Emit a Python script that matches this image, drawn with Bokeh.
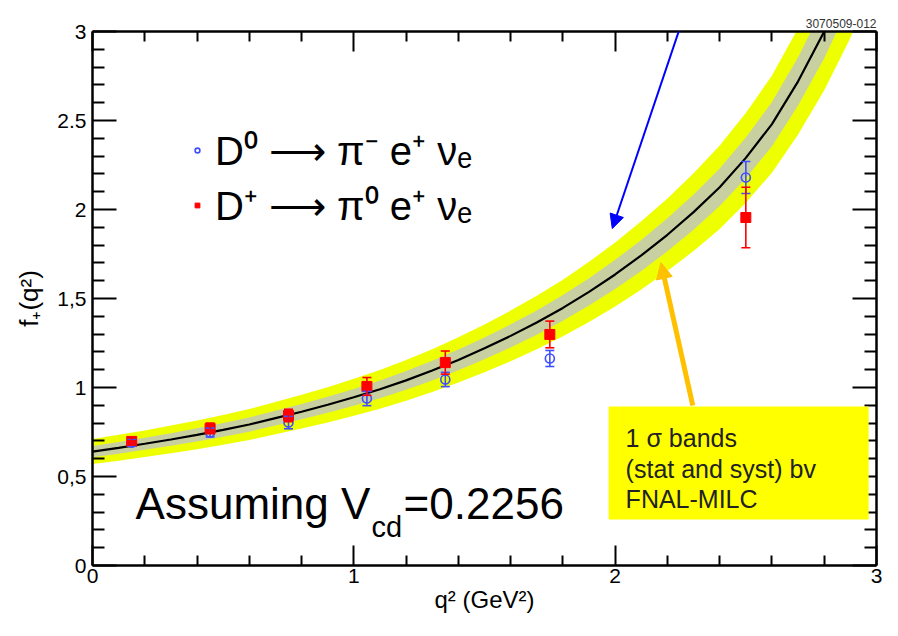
from bokeh.plotting import figure
from bokeh.models import (ColumnDataSource, Whisker, TeeHead, Arrow, NormalHead, Label,
                          BoxAnnotation, LinearAxis, FixedTicker, Range1d, Legend, LegendItem,
                          CustomLabelingPolicy)
from bokeh.embed import file_html
from bokeh.resources import INLINE

# ---------------- data ----------------
q2_points = [0.15, 0.45, 0.75, 1.05, 1.35, 1.75, 2.50]
f_d0 = [0.69, 0.747, 0.803, 0.938, 1.045, 1.163, 2.18]          # D0 -> pi- e+ nu (blue)
err_d0 = [0.02, 0.025, 0.035, 0.04, 0.04, 0.045, 0.09]
f_dp = [0.697, 0.770, 0.843, 1.006, 1.140, 1.298, 1.955]        # D+ -> pi0 e+ nu (red)
err_dp = [0.02, 0.03, 0.035, 0.05, 0.065, 0.075, 0.17]

q2_fit = [0.0, 0.1, 0.2, 0.3, 0.4, 0.5, 0.6, 0.7, 0.8, 0.9, 1.0, 1.1, 1.2, 1.3, 1.4, 1.5,
          1.6, 1.7, 1.8, 1.9, 2.0, 2.1, 2.2, 2.3, 2.4, 2.5, 2.6, 2.7, 2.8, 2.9, 3.0]
f_fit = [0.640, 0.661, 0.684, 0.708, 0.734, 0.762, 0.792, 0.828, 0.864, 0.903, 0.945,
         0.990, 1.040, 1.095, 1.155, 1.220, 1.290, 1.365, 1.447, 1.537, 1.635, 1.742,
         1.858, 1.985, 2.125, 2.290, 2.480, 2.720, 3.000, 3.330, 3.720]
yellow_hw = [0.070, 0.073, 0.075, 0.078, 0.081, 0.084, 0.087, 0.091, 0.095, 0.099, 0.104,
             0.109, 0.114, 0.120, 0.127, 0.134, 0.142, 0.150, 0.159, 0.169, 0.180, 0.192,
             0.204, 0.218, 0.234, 0.252, 0.273, 0.299, 0.330, 0.366, 0.409]
gray_hw = [0.032, 0.033, 0.034, 0.035, 0.037, 0.038, 0.040, 0.041, 0.043, 0.045, 0.047,
           0.050, 0.052, 0.055, 0.058, 0.061, 0.065, 0.068, 0.072, 0.077, 0.082, 0.087,
           0.093, 0.099, 0.106, 0.115, 0.124, 0.136, 0.150, 0.167, 0.186]

x_major = [0, 1, 2, 3]
x_minor = [0.2, 0.4, 0.6, 0.8, 1.2, 1.4, 1.6, 1.8, 2.2, 2.4, 2.6, 2.8]
y_major = [0, 0.5, 1, 1.5, 2, 2.5, 3]
y_minor = [0.1, 0.2, 0.3, 0.4, 0.6, 0.7, 0.8, 0.9, 1.1, 1.2, 1.3, 1.4, 1.6, 1.7, 1.8, 1.9,
           2.1, 2.2, 2.3, 2.4, 2.6, 2.7, 2.8, 2.9]
y_labels = {0: "0", 0.5: "0,5", 1: "1", 1.5: "1,5", 2: "2", 2.5: "2.5", 3: "3"}

legend_d0 = "D\u2070 \u27f6 \u03c0\u207b e\u207a \u03bd\u2091"
legend_dp = "D\u207a \u27f6 \u03c0\u2070 e\u207a \u03bd\u2091"

FONT = "Liberation Sans"

# ---------------- figure ----------------
p = figure(width=882, height=620, x_range=Range1d(0, 3), y_range=Range1d(0, 3),
           output_backend="svg", toolbar_location=None,
           min_border_left=92, min_border_right=6, min_border_top=31, min_border_bottom=55,
           x_axis_label="q\u00b2 (GeV\u00b2)", y_axis_label="f\u208a(q\u00b2)",
           title="3070509-012")
p.title.align = "right"
p.title.text_font = FONT
p.title.text_font_size = "12px"
p.title.text_font_style = "normal"
p.title.text_color = "#333333"
p.title.standoff = 8
p.title.offset = 0
p.grid.visible = False
p.outline_line_color = None
p.background_fill_color = "white"
p.border_fill_color = "white"

hide_labels = CustomLabelingPolicy(code="""
    const ids = [...indices]
    for (const i of ids) indices.unset(i)
    return indices
""")

def style_axis(ax, major, minor, tick_in, minor_in, show_labels):
    ax.ticker = FixedTicker(ticks=major, minor_ticks=minor)
    ax.axis_line_width = 2.5
    ax.axis_line_color = "black"
    ax.major_tick_in = tick_in
    ax.major_tick_out = 0
    ax.minor_tick_in = minor_in
    ax.minor_tick_out = 0
    ax.major_tick_line_width = 2
    ax.minor_tick_line_width = 2
    ax.major_tick_line_color = "black"
    ax.minor_tick_line_color = "black"
    if show_labels:
        ax.major_label_text_font = FONT
        ax.major_label_text_font_size = "21px"
        ax.major_label_text_color = "black"
    else:
        ax.major_label_policy = hide_labels
        ax.major_label_text_font_size = "0px"
        ax.major_label_standoff = 0
        ax.axis_label_standoff = 0

style_axis(p.xaxis[0], x_major, x_minor, 20, 10, True)
style_axis(p.yaxis[0], y_major, y_minor, 24, 12, True)
p.xaxis[0].major_label_standoff = 3
p.yaxis[0].major_label_standoff = 6
p.yaxis[0].major_label_overrides = y_labels
p.xaxis[0].axis_label_text_font = FONT
p.xaxis[0].axis_label_text_font_size = "24px"
p.xaxis[0].axis_label_text_font_style = "normal"
p.xaxis[0].axis_label_text_color = "black"
p.xaxis[0].axis_label_standoff = 0
p.yaxis[0].axis_label_text_font = FONT
p.yaxis[0].axis_label_text_font_size = "26px"
p.yaxis[0].axis_label_text_font_style = "normal"
p.yaxis[0].axis_label_text_color = "black"
p.yaxis[0].axis_label_standoff = 10

top_ax = LinearAxis()
style_axis(top_ax, x_major, x_minor, 20, 10, False)
p.add_layout(top_ax, "above")
right_ax = LinearAxis()
style_axis(right_ax, y_major, y_minor, 24, 12, False)
p.add_layout(right_ax, "right")

# ---------------- fit with bands ----------------
y_lo = [f - h for f, h in zip(f_fit, yellow_hw)]
y_hi = [f + h for f, h in zip(f_fit, yellow_hw)]
g_lo = [f - h for f, h in zip(f_fit, gray_hw)]
g_hi = [f + h for f, h in zip(f_fit, gray_hw)]
fit_src = ColumnDataSource(dict(q2=q2_fit, f=f_fit, ylo=y_lo, yhi=y_hi, glo=g_lo, ghi=g_hi))
p.varea(x="q2", y1="ylo", y2="yhi", source=fit_src, fill_color="#EEFF00")
p.varea(x="q2", y1="glo", y2="ghi", source=fit_src, fill_color="#C8D0A2")
p.line(x="q2", y="f", source=fit_src, line_color="black", line_width=2.2)

# ---------------- data points ----------------
src_d0 = ColumnDataSource(dict(x=q2_points, y=f_d0,
                               lo=[v - e for v, e in zip(f_d0, err_d0)],
                               hi=[v + e for v, e in zip(f_d0, err_d0)]))
src_dp = ColumnDataSource(dict(x=q2_points, y=f_dp,
                               lo=[v - e for v, e in zip(f_dp, err_dp)],
                               hi=[v + e for v, e in zip(f_dp, err_dp)]))
BLUE = "#3F4FFF"
RED = "#FF0000"
for src, col in ((src_d0, BLUE), (src_dp, RED)):
    w = Whisker(source=src, base="x", lower="lo", upper="hi", line_color=col, line_width=1.6,
                level="overlay",
                lower_head=TeeHead(size=9, line_color=col, line_width=1.6),
                upper_head=TeeHead(size=9, line_color=col, line_width=1.6))
    p.add_layout(w)

r_d0 = p.scatter(x="x", y="y", source=src_d0, marker="circle", size=9, fill_color=None,
                 line_color=BLUE, line_width=1.6, level="overlay")
r_dp = p.scatter(x="x", y="y", source=src_dp, marker="square", size=10, fill_color=RED,
                 line_color=RED, level="overlay")

legend = Legend(items=[LegendItem(label=legend_d0, renderers=[r_d0]),
                       LegendItem(label=legend_dp, renderers=[r_dp])],
                location=(99, 333), border_line_color=None, background_fill_alpha=0,
                label_text_font=FONT, label_text_font_size="40px", label_text_color="black",
                label_text_line_height=1.0,
                glyph_width=12, glyph_height=12, label_standoff=12, spacing=0,
                padding=0, margin=0)
p.add_layout(legend)

# ---------------- annotations ----------------
p.add_layout(BoxAnnotation(left=1.975, right=2.97, bottom=0.258, top=0.893,
                           fill_color="#FFFF00", fill_alpha=1.0, line_color=None,
                           level="annotation"))
for txt, yy in (("1 \u03c3 bands", 0.716), ("(stat and syst) bv", 0.542), ("FNAL-MILC", 0.371)):
    p.add_layout(Label(x=2.04, y=yy, text=txt, text_font=FONT, text_font_size="25px",
                       text_color="#222222", text_baseline="alphabetic"))

p.add_layout(Label(x=0.165, y=0.35, text="Assuming V", text_font=FONT, text_font_size="44px",
                   text_color="black", text_baseline="alphabetic"))
p.add_layout(Label(x=0.165, y=0.35, x_offset=236, y_offset=-24, text="cd", text_font=FONT,
                   text_font_size="29px", text_color="black", text_baseline="alphabetic"))
p.add_layout(Label(x=0.165, y=0.35, x_offset=268, text="=0.2256", text_font=FONT,
                   text_font_size="44px", text_color="black", text_baseline="alphabetic"))

p.add_layout(Arrow(end=NormalHead(size=14, fill_color="#0000FF", line_color="#0000FF"),
                   x_start=2.283, y_start=3.174, x_end=1.989, y_end=1.893,
                   line_color="#0000FF", line_width=2))
p.add_layout(Arrow(end=NormalHead(size=16, fill_color="#FFC000", line_color="#FFC000"),
                   x_start=2.297, y_start=0.899, x_end=2.175, y_end=1.702,
                   line_color="#FFC000", line_width=5))

open("out.html", "w").write(file_html(p, INLINE))
